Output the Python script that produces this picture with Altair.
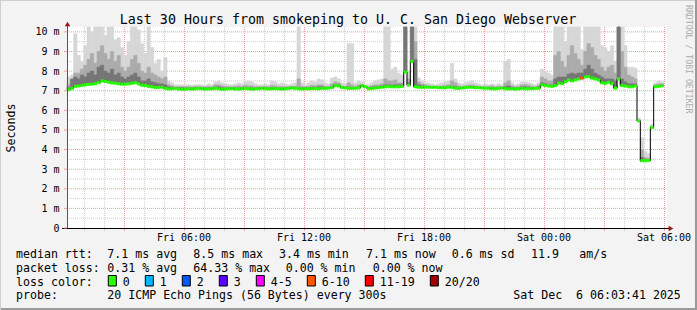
import altair as alt
import pandas as pd

MONO = "DejaVu Sans Mono"
title_text = "Last 30 Hours from smokeping to U. C. San Diego Webserver"

# samples every 10 minutes starting Fri 2025-12-05 00:09 UTC
start_time = "2025-12-05 00:09:00"
step_minutes = 10

median_ms = [
    7.05, 7.12, 7.22, 7.24, 7.27, 7.30, 7.32, 7.33, 7.36, 7.41, 7.50, 7.47, 7.43, 7.40, 7.38, 7.35, 7.33, 7.34,
    7.35, 7.38, 7.41, 7.35, 7.28, 7.26, 7.22, 7.20, 7.16, 7.17, 7.18, 7.12, 7.09, 7.10, 7.12, 7.08, 7.07, 7.08,
    7.10, 7.08, 7.10, 7.12, 7.10, 7.08, 7.09, 7.10, 7.12, 7.10, 7.07, 7.08, 7.10, 7.11, 7.09, 7.08, 7.10, 7.12,
    7.10, 7.08, 7.09, 7.10, 7.12, 7.10, 7.09, 7.10, 7.11, 7.10, 7.08, 7.10, 7.12, 7.14, 7.12, 7.10, 7.09, 7.10,
    7.10, 7.10, 7.12, 7.10, 7.12, 7.12, 7.14, 7.16, 7.26, 7.24, 7.16, 7.15, 7.12, 7.12, 7.13, 7.14, 7.25, 7.20,
    7.10, 7.12, 7.14, 7.16, 7.18, 7.20, 7.22, 7.20, 7.20, 7.20, 7.22, 7.95, 7.28, 8.50, 7.20, 7.18, 7.17, 7.18,
    7.18, 7.17, 7.18, 7.16, 7.15, 7.16, 7.18, 7.17, 7.13, 7.12, 7.14, 7.16, 7.18, 7.17, 7.15, 7.16, 7.14, 7.13,
    7.12, 7.10, 7.10, 7.12, 7.14, 7.10, 7.09, 7.10, 7.08, 7.10, 7.12, 7.10, 7.10, 7.11, 7.12, 7.13, 7.30, 7.26,
    7.24, 7.22, 7.26, 7.38, 7.36, 7.46, 7.55, 7.50, 7.55, 7.60, 7.64, 7.70, 7.72, 7.64, 7.60, 7.55, 7.40, 7.38,
    7.43, 7.35, 7.13, 7.60, 7.26, 7.24, 7.20, 7.20, 7.24, 5.46, 3.43, 3.43, 3.44, 5.12, 7.20, 7.22, 7.25, None,
]

smoke_hi = [
    7.70, 7.80, 9.90, 8.80, 8.50, 9.30, 10.25, 10.00, 10.25, 10.25, 10.25, 9.80, 10.25, 10.25, 9.60, 9.70, 9.20, 8.80,
    9.50, 10.25, 10.25, 10.10, 9.40, 8.90, 10.25, 9.20, 8.40, 8.60, 8.00, 8.70, 7.50, 7.40, 7.30, 7.30, 7.30, 7.30,
    7.30, 7.28, 7.30, 7.32, 7.30, 7.28, 7.35, 7.30, 7.45, 7.50, 7.40, 7.35, 7.32, 7.30, 7.35, 7.40, 7.35, 7.45,
    7.50, 7.45, 7.35, 7.30, 7.30, 7.35, 7.30, 7.50, 7.45, 7.35, 7.40, 7.35, 7.30, 7.35, 7.40, 10.25, 7.40, 7.30,
    7.40, 7.50, 7.45, 7.60, 7.55, 7.40, 7.35, 7.65, 7.70, 7.60, 7.40, 7.35, 9.40, 9.40, 7.40, 7.50, 7.45, 7.30,
    7.30, 7.40, 7.50, 7.55, 7.60, 10.25, 10.25, 8.10, 8.20, 7.90, 7.80, 10.25, 8.00, 10.25, 10.25, 7.65, 7.50, 7.40,
    7.40, 7.35, 7.30, 7.35, 7.40, 7.45, 7.50, 8.40, 7.60, 7.40, 7.35, 7.40, 7.45, 7.50, 7.40, 7.35, 7.30, 7.35,
    7.30, 7.35, 7.30, 7.35, 7.30, 8.50, 8.60, 7.40, 7.30, 7.35, 7.45, 7.45, 7.40, 7.35, 7.30, 7.40, 8.10, 8.00,
    7.90, 7.80, 10.25, 10.25, 10.25, 9.50, 10.25, 10.25, 10.25, 10.25, 9.10, 10.25, 10.25, 10.25, 10.25, 10.25, 9.30, 9.20,
    9.00, 9.30, 8.50, 10.25, 10.25, 9.30, 8.20, 8.20, 8.15, 5.60, 4.60, 3.90, 3.80, 5.30, 7.40, 7.50, 7.45, None,
]

smoke_mid = [
    7.30, 7.40, 7.90, 7.90, 8.10, 8.30, 8.60, 8.90, 8.40, 9.00, 9.30, 8.90, 8.60, 9.00, 8.50, 8.80, 8.20, 8.00,
    8.20, 8.60, 8.80, 8.40, 8.00, 7.90, 8.20, 7.90, 7.80, 7.70, 7.60, 7.70, 7.30, 7.25, 7.20, 7.20, 7.20, 7.20,
    7.20, 7.20, 7.22, 7.20, 7.20, 7.20, 7.22, 7.20, 7.30, 7.30, 7.25, 7.22, 7.20, 7.20, 7.22, 7.25, 7.22, 7.28,
    7.25, 7.25, 7.20, 7.20, 7.20, 7.22, 7.20, 7.28, 7.25, 7.20, 7.22, 7.20, 7.20, 7.20, 7.22, 7.60, 7.22, 7.20,
    7.22, 7.28, 7.25, 7.30, 7.30, 7.22, 7.20, 7.35, 7.45, 7.40, 7.25, 7.20, 7.40, 7.30, 7.22, 7.30, 7.32, 7.22,
    7.20, 7.25, 7.30, 7.30, 7.35, 7.60, 7.50, 7.50, 7.55, 7.40, 7.40, 10.25, 7.60, 10.25, 9.50, 7.45, 7.35, 7.30,
    7.25, 7.22, 7.20, 7.22, 7.25, 7.28, 7.30, 7.50, 7.40, 7.25, 7.22, 7.25, 7.28, 7.30, 7.25, 7.22, 7.20, 7.22,
    7.22, 7.24, 7.20, 7.22, 7.20, 7.40, 7.50, 7.25, 7.20, 7.22, 7.30, 7.32, 7.28, 7.22, 7.20, 7.28, 7.70, 7.60,
    7.50, 7.50, 8.80, 9.00, 8.50, 8.20, 8.80, 9.30, 8.90, 8.60, 8.30, 9.00, 9.40, 9.20, 8.80, 8.60, 8.20, 8.00,
    8.20, 8.30, 7.90, 10.25, 9.00, 8.20, 7.80, 7.70, 7.60, 5.50, 4.00, 3.60, 3.55, 5.20, 7.30, 7.35, 7.35, None,
]

smoke_dark = [
    7.15, 7.60, 7.70, 7.60, 7.80, 7.70, 7.90, 8.00, 7.80, 8.20, 8.30, 8.00, 7.90, 8.10, 7.80, 7.90, 7.70, 7.60,
    7.70, 7.80, 7.90, 7.70, 7.50, 7.50, 7.60, 7.45, 7.40, 7.35, 7.35, 7.30, 7.20, 7.18, 7.16, 7.15, 7.15, 7.14,
    7.15, 7.13, 7.15, 7.17, 7.15, 7.13, 7.14, 7.15, 7.18, 7.20, 7.15, 7.13, 7.15, 7.16, 7.14, 7.13, 7.15, 7.17,
    7.15, 7.14, 7.14, 7.15, 7.17, 7.15, 7.14, 7.15, 7.16, 7.15, 7.13, 7.15, 7.17, 7.19, 7.17, 7.15, 7.14, 7.15,
    7.15, 7.17, 7.18, 7.20, 7.20, 7.16, 7.17, 7.22, 7.32, 7.30, 7.20, 7.18, 7.18, 7.17, 7.17, 7.20, 7.28, 7.16,
    7.15, 7.18, 7.20, 7.22, 7.24, 7.30, 7.30, 7.28, 7.30, 7.30, 7.30, 10.25, 7.40, 10.25, 8.60, 7.30, 7.25, 7.22,
    7.20, 7.19, 7.18, 7.18, 7.17, 7.18, 7.20, 7.22, 7.20, 7.16, 7.15, 7.17, 7.20, 7.22, 7.20, 7.18, 7.17, 7.16,
    7.17, 7.16, 7.15, 7.17, 7.15, 7.20, 7.25, 7.17, 7.14, 7.15, 7.20, 7.20, 7.18, 7.16, 7.15, 7.20, 7.40, 7.35,
    7.30, 7.30, 7.60, 7.70, 7.70, 7.70, 7.85, 7.90, 7.85, 7.90, 7.90, 8.10, 8.30, 8.10, 7.90, 7.80, 7.70, 7.60,
    7.60, 7.60, 7.50, 10.25, 7.60, 7.45, 7.35, 7.35, 7.35, 5.48, 3.60, 3.50, 3.50, 5.15, 7.25, 7.27, 7.28, None,
]

# samples with lost pings (index -> pings lost out of 20)
lost_pings = {154: 8}

loss_labels = ["0", "1", "2", "3", "4-5", "6-10", "11-19", "20/20"]
loss_colors = ["#26ff00", "#00b8ff", "#0059ff", "#5e00ff", "#ff00ff", "#ff5500", "#ff0000", "#a00000"]

y_tick_values = list(range(0, 11))
y_tick_labels = ["0"] + [f"{v} m" for v in range(1, 11)]


def loss_class(n):
    if n == 0:
        return "0"
    if n <= 3:
        return str(n)
    if n <= 5:
        return "4-5"
    if n <= 10:
        return "6-10"
    if n <= 19:
        return "11-19"
    return "20/20"


legend_rows = [
    [("median rtt:", 16), ("7.1 ms avg", 107.3), ("8.5 ms max", 193.3), ("3.4 ms min", 279),
     ("7.1 ms now", 366), ("0.6 ms sd", 451.7), ("11.9", 531), ("am/s", 579.3)],
    [("packet loss:", 16), ("0.31 % avg", 107.3), ("64.33 % max", 193.3), ("0.00 % min", 285.7),
     ("0.00 % now", 372.7)],
    [("loss color:", 16)],
    [("probe:", 16), ("20 ICMP Echo Pings (56 Bytes) every 300s", 107.3),
     ("Sat Dec  6 06:03:41 2025", 513.3)],
]
legend_baselines = [258, 271.7, 285.5, 299.2]

# ---------------------------------------------------------------- layout
LEFT, TOP, W, H = 67, 27, 600, 201
PAD = {"left": LEFT, "top": TOP, "right": 697 - LEFT - W, "bottom": 310 - TOP - H}
LIGHT, MID, DARK = "#d6d6d6", "#ababab", "#767676"
RED_GRID, GRAY_GRID = "#f0a0a0", "#cfcfcf"
ISO = "%Y-%m-%dT%H:%M:%SZ"

n = len(median_ms)
times = pd.date_range(start_time, periods=n, freq=f"{step_minutes}min")
df = pd.DataFrame({
    "t": times.strftime(ISO),
    "t2": (times + pd.Timedelta(minutes=step_minutes)).strftime(ISO),
    "median": median_ms,
    "hi": smoke_hi,
    "mid": smoke_mid,
    "dark": smoke_dark,
    "loss": [loss_class(lost_pings.get(i, 0)) for i in range(n)],
}).dropna()

x_scale = alt.Scale(type="utc", domain=["2025-12-05T00:09:00Z", "2025-12-06T06:09:00Z"])
y_scale = alt.Scale(domain=[0, 10.25], nice=False, zero=False)

hours = pd.date_range("2025-12-05 01:00", "2025-12-06 06:00", freq="1h")
grid_x = pd.DataFrame({
    "t": hours.strftime(ISO),
    "major": (hours.hour % 3 == 0),
    "label": [h.strftime("%a %H:%M") if h.hour % 6 == 0 else "" for h in hours],
})
grid_y = pd.DataFrame({"v": [i * 0.5 for i in range(1, 21)]})
grid_y["major"] = grid_y["v"] % 1 == 0
ylab = pd.DataFrame({"v": y_tick_values, "label": y_tick_labels})


def X(field="t"):
    return alt.X(f"{field}:T", scale=x_scale, axis=None)


def Y(field):
    return alt.Y(f"{field}:Q", scale=y_scale, axis=None)


layers = []

# grid (minor gray, then major red), dotted
for major, col in [(False, GRAY_GRID), (True, RED_GRID)]:
    layers.append(alt.Chart(grid_x[grid_x["major"] == major]).mark_rule(
        color=col, strokeDash=[1, 1], strokeWidth=1, xOffset=0.5).encode(
        x=X(), y=alt.value(0), y2=alt.value(H)))
    layers.append(alt.Chart(grid_y[grid_y["major"] == major]).mark_rule(
        color=col, strokeDash=[1, 1], strokeWidth=1).encode(
        y=Y("v"), x=alt.value(0), x2=alt.value(W)))
    # small ticks under the time axis
    layers.append(alt.Chart(grid_x[grid_x["major"] == major]).mark_rule(
        color=col, strokeWidth=1, xOffset=0.5).encode(
        x=X(), y=alt.value(H), y2=alt.value(H + 3)))

base = alt.Chart(df)
layers += [
    base.mark_rect(color=LIGHT, stroke=LIGHT, strokeWidth=0.6).encode(
        x=X(), x2="t2:T", y=Y("median"), y2="hi:Q"),
    base.mark_rect(color=MID, stroke=MID, strokeWidth=0.6).encode(
        x=X(), x2="t2:T", y=Y("median"), y2="mid:Q"),
    base.mark_rect(color=DARK, stroke=DARK, strokeWidth=0.6).encode(
        x=X(), x2="t2:T", y=Y("median"), y2="dark:Q"),
    base.mark_line(interpolate="step-after", color="#000", strokeWidth=1).encode(
        x=X(), y=Y("median")),
    base.mark_rule(strokeWidth=3).encode(
        x=X(), x2="t2:T", y=Y("median"),
        color=alt.Color("loss:N", scale=alt.Scale(domain=loss_labels, range=loss_colors), legend=None)),
]

one = pd.DataFrame({"a": [0]})

# axis lines
layers.append(alt.Chart(one).mark_rule(color="#555", strokeWidth=1).encode(
    x=alt.value(0.5), y=alt.value(-3), y2=alt.value(H)))
layers.append(alt.Chart(one).mark_rule(color="#000", strokeWidth=1).encode(
    x=alt.value(-5), x2=alt.value(W + 2), y=alt.value(H + 0.5)))
# small ticks on the value axis
layers.append(alt.Chart(ylab).mark_rule(color=RED_GRID, strokeWidth=1).encode(
    y=Y("v"), x=alt.value(-3), x2=alt.value(0)))

# tick labels
layers.append(alt.Chart(grid_x[grid_x["label"] != ""]).mark_text(
    font=MONO, fontSize=10, align="center", baseline="alphabetic", color="#000").encode(
    x=X(), y=alt.value(241 - TOP), text="label:N"))
layers.append(alt.Chart(ylab).mark_text(
    font=MONO, fontSize=10, align="right", baseline="middle", color="#000", dy=0.5).encode(
    y=Y("v"), x=alt.value(-7.5), text="label:N"))

# arrows at the ends of the axes
layers.append(alt.Chart(one).mark_point(
    shape="triangle-up", filled=True, size=30, color="#9a1515", opacity=1).encode(
    x=alt.value(0.5), y=alt.value(-3)))
layers.append(alt.Chart(one).mark_point(
    shape="triangle-right", filled=True, size=30, color="#9a1515", opacity=1).encode(
    x=alt.value(W + 4), y=alt.value(H + 0.5)))

# frame of the canvas
for y1, c in [(-TOP + 0.5, "#cfcfcf"), (310 - TOP - 1.5, "#9a9a9a"), (310 - TOP - 0.5, "#9a9a9a")]:
    layers.append(alt.Chart(one).mark_rule(color=c, strokeWidth=1).encode(
        x=alt.value(-LEFT), x2=alt.value(697 - LEFT), y=alt.value(y1)))
for xv, c in [(-LEFT + 0.5, "#cfcfcf"), (697 - LEFT - 1.5, "#9a9a9a"), (697 - LEFT - 0.5, "#9a9a9a")]:
    layers.append(alt.Chart(one).mark_rule(color=c, strokeWidth=1).encode(
        x=alt.value(xv), y=alt.value(-TOP), y2=alt.value(310 - TOP)))


def text_layer(s, x, y, size, **kw):
    return alt.Chart(pd.DataFrame({"s": [s.replace(" ", "\u00a0")]})).mark_text(
        font=MONO, fontSize=size, **kw).encode(
        text="s:N", x=alt.value(x), y=alt.value(y))


layers.append(text_layer(title_text, 348 - LEFT, 24 - TOP, 13.3, align="center",
                         baseline="alphabetic", color="#000"))
layers.append(text_layer("Seconds", 15 - LEFT, 128 - TOP, 11.6, align="center",
                         baseline="alphabetic", angle=270, color="#000"))
layers.append(text_layer("RRDTOOL / TOBI OETIKER", 687.5 - LEFT, 5 - TOP, 8.2, align="left",
                         baseline="middle", angle=90, color="#ababab"))

# legend text
for row, yb in zip(legend_rows, legend_baselines):
    for s, xc in row:
        layers.append(text_layer(s, xc - LEFT, yb - TOP, 11.6, align="left",
                                 baseline="alphabetic", color="#000"))

# loss colour boxes + labels
box_x = 108.3
for lab, col in zip(loss_labels, loss_colors):
    layers.append(alt.Chart(one).mark_rect(stroke="#000", strokeWidth=1, fill=col).encode(
        x=alt.value(box_x - LEFT), x2=alt.value(box_x + 8 - LEFT),
        y=alt.value(275.5 - TOP), y2=alt.value(286 - TOP)))
    layers.append(text_layer(lab, box_x + 14.5 - LEFT, legend_baselines[2] - TOP, 11.6,
                             align="left", baseline="alphabetic", color="#000"))
    box_x += 30 + 7 * len(lab)

chart = alt.layer(*layers).properties(
    width=W, height=H, padding=PAD, autosize="none", background="#f3f3f3",
).configure_view(fill="white", strokeWidth=0)

chart.save("out.html", embed_options={"renderer": "svg", "actions": False})
